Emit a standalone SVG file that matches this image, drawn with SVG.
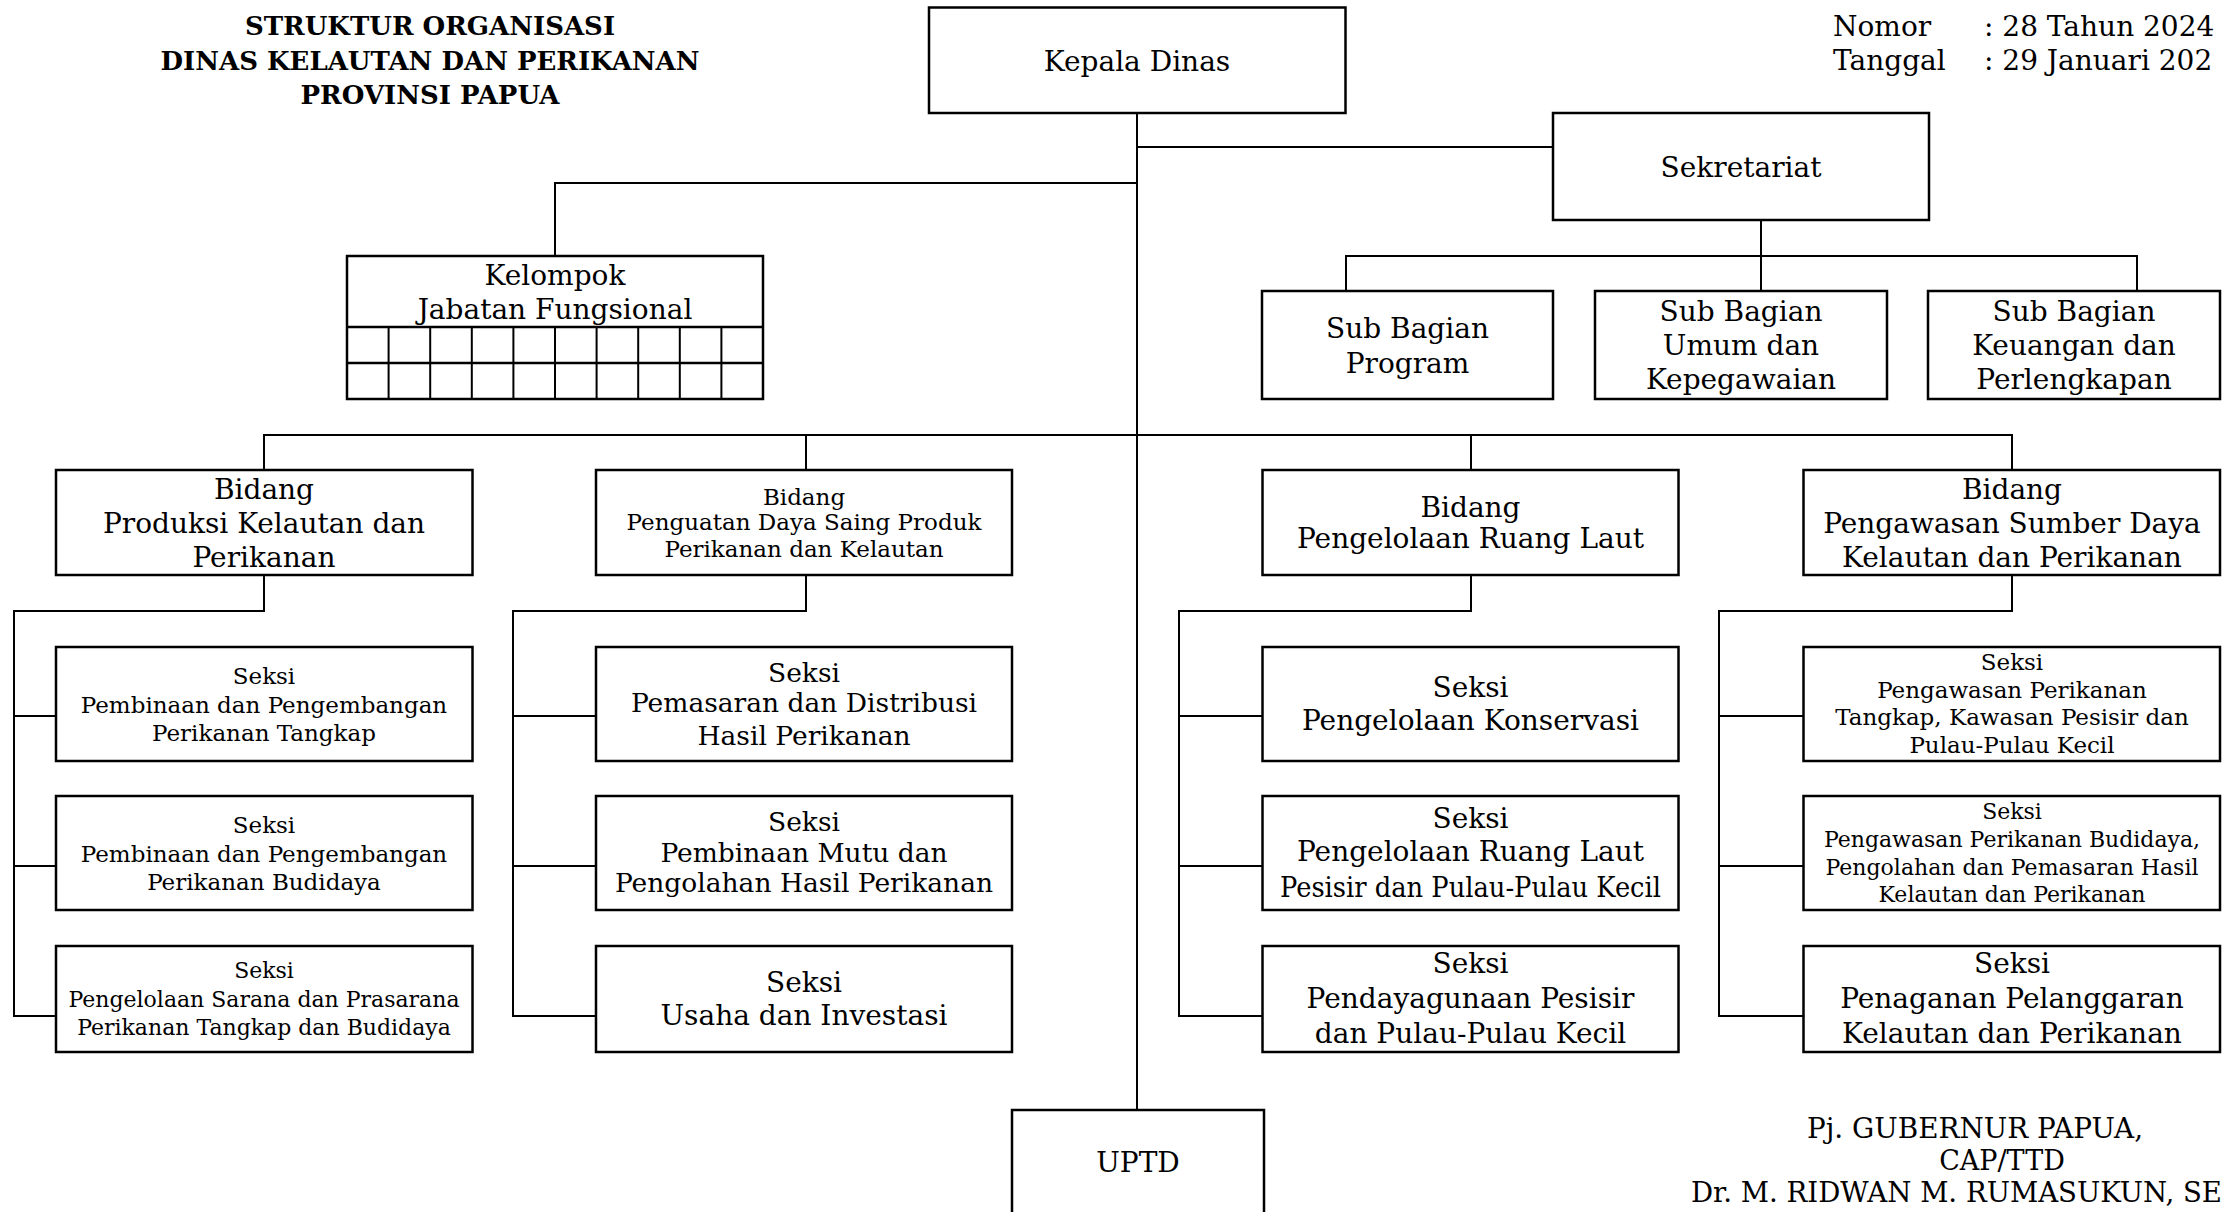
<svg xmlns="http://www.w3.org/2000/svg" width="2227" height="1212" viewBox="0 0 2227 1212">
<style>
text{font-family:"DejaVu Serif","Liberation Serif",serif;fill:#000}
.c{text-anchor:middle}
.b{fill:#fff;stroke:#000;stroke-width:2.5}
.ln{fill:none;stroke:#000;stroke-width:2}
.title{font-weight:bold;font-size:26px}
.f28{font-size:28px}
.f27{font-size:27px}
.f26{font-size:26.5px}
.f23{font-size:23px}
.f22{font-size:22px}
</style>
<rect width="2227" height="1212" fill="#fff"/>

<g id="title">
<text class="title c" x="430" y="35">STRUKTUR ORGANISASI</text>
<text class="title c" x="430" y="70">DINAS KELAUTAN DAN PERIKANAN</text>
<text class="title c" x="430" y="104">PROVINSI PAPUA</text>
</g>

<g id="header" class="f28">
<text x="1833" y="36">Nomor</text>
<text x="1984" y="36">: 28 Tahun 2024</text>
<text x="1833" y="70">Tanggal</text>
<text x="1984" y="70">: 29 Januari 202</text>
</g>

<g id="connectors">
<path class="ln" d="M1137 113V1110"/>
<path class="ln" d="M1137 147H1553"/>
<path class="ln" d="M1137 183H555V256"/>
<path class="ln" d="M1761 220V291M1346 291V256H2137V291"/>
<path class="ln" d="M264 470V435H2012V470M806 435V470M1471 435V470"/>
<path class="ln" d="M264 575V611H14V1016H56M14 716H56M14 866H56"/>
<path class="ln" d="M806 575V611H513V1016H596M513 716H596M513 866H596"/>
<path class="ln" d="M1471 575V611H1179V1016H1263M1179 716H1263M1179 866H1263"/>
<path class="ln" d="M2012 575V611H1719V1016H1804M1719 716H1804M1719 866H1804"/>
</g>

<g id="kepala-dinas">
<rect class="b" x="929" y="7.5" width="416.5" height="105.5"/>
<text class="f28 c" x="1137" y="71">Kepala Dinas</text>
</g>

<g id="sekretariat">
<rect class="b" x="1553" y="113" width="376" height="107"/>
<text class="f28 c" x="1741" y="177">Sekretariat</text>
</g>

<g id="kelompok-jabatan-fungsional">
<rect class="b" x="347" y="256" width="416" height="143"/>
<path class="ln" style="stroke-width:2.5" d="M347 327H763M347 363H763"/>
<path class="ln" d="M388.6 327V399M430.2 327V399M471.8 327V399M513.4 327V399M555 327V399M596.6 327V399M638.2 327V399M679.8 327V399M721.4 327V399"/>
<text class="f28 c" x="555" y="285">Kelompok</text>
<text class="f28 c" x="555" y="319">Jabatan Fungsional</text>
</g>

<g id="sub-bagian-program">
<rect class="b" x="1262" y="291" width="291" height="108"/>
<text class="f28 c" x="1407.5" y="338">Sub Bagian</text>
<text class="f28 c" x="1407.5" y="373">Program</text>
</g>

<g id="sub-bagian-umum">
<rect class="b" x="1595" y="291" width="292" height="108"/>
<text class="f28 c" x="1741" y="321">Sub Bagian</text>
<text class="f28 c" x="1741" y="355">Umum dan</text>
<text class="f28 c" x="1741" y="389">Kepegawaian</text>
</g>

<g id="sub-bagian-keuangan">
<rect class="b" x="1928" y="291" width="292" height="108"/>
<text class="f28 c" x="2074" y="321">Sub Bagian</text>
<text class="f28 c" x="2074" y="355">Keuangan dan</text>
<text class="f28 c" x="2074" y="389">Perlengkapan</text>
</g>

<g id="bidang-produksi">
<rect class="b" x="56" y="470" width="416.5" height="105"/>
<text class="f28 c" x="264" y="499">Bidang</text>
<text class="f28 c" x="264" y="533">Produksi Kelautan dan</text>
<text class="f28 c" x="264" y="567">Perikanan</text>
</g>

<g id="bidang-penguatan">
<rect class="b" x="596" y="470" width="416" height="105"/>
<text class="f23 c" x="804" y="505">Bidang</text>
<text class="f23 c" x="804" y="530">Penguatan Daya Saing Produk</text>
<text class="f23 c" x="804" y="557">Perikanan dan Kelautan</text>
</g>

<g id="bidang-ruang-laut">
<rect class="b" x="1262.5" y="470" width="416" height="105"/>
<text class="f28 c" x="1470.5" y="517">Bidang</text>
<text class="f28 c" x="1470.5" y="548">Pengelolaan Ruang Laut</text>
</g>

<g id="bidang-pengawasan">
<rect class="b" x="1803.5" y="470" width="416.5" height="105"/>
<text class="f28 c" x="2012" y="499">Bidang</text>
<text class="f28 c" x="2012" y="533">Pengawasan Sumber Daya</text>
<text class="f28 c" x="2012" y="567">Kelautan dan Perikanan</text>
</g>

<g id="seksi-tangkap">
<rect class="b" x="56" y="647" width="416.5" height="114"/>
<text class="f23 c" x="264" y="684">Seksi</text>
<text class="f23 c" x="264" y="713">Pembinaan dan Pengembangan</text>
<text class="f23 c" x="264" y="741">Perikanan Tangkap</text>
</g>

<g id="seksi-budidaya">
<rect class="b" x="56" y="796" width="416.5" height="114"/>
<text class="f23 c" x="264" y="833">Seksi</text>
<text class="f23 c" x="264" y="862">Pembinaan dan Pengembangan</text>
<text class="f23 c" x="264" y="890">Perikanan Budidaya</text>
</g>

<g id="seksi-sarana">
<rect class="b" x="56" y="946" width="416.5" height="106"/>
<text class="f22 c" x="264" y="978">Seksi</text>
<text class="f22 c" x="264" y="1007">Pengelolaan Sarana dan Prasarana</text>
<text class="f22 c" x="264" y="1035">Perikanan Tangkap dan Budidaya</text>
</g>

<g id="seksi-pemasaran">
<rect class="b" x="596" y="647" width="416" height="114"/>
<text class="f26 c" x="804" y="682">Seksi</text>
<text class="f26 c" x="804" y="712">Pemasaran dan Distribusi</text>
<text class="f26 c" x="804" y="745">Hasil Perikanan</text>
</g>

<g id="seksi-mutu">
<rect class="b" x="596" y="796" width="416" height="114"/>
<text class="f26 c" x="804" y="831">Seksi</text>
<text class="f26 c" x="804" y="862">Pembinaan Mutu dan</text>
<text class="f26 c" x="804" y="892">Pengolahan Hasil Perikanan</text>
</g>

<g id="seksi-usaha">
<rect class="b" x="596" y="946" width="416" height="106"/>
<text class="f28 c" x="804" y="992">Seksi</text>
<text class="f28 c" x="804" y="1025">Usaha dan Investasi</text>
</g>

<g id="seksi-konservasi">
<rect class="b" x="1262.5" y="647" width="416" height="114"/>
<text class="f28 c" x="1470.5" y="697">Seksi</text>
<text class="f28 c" x="1470.5" y="730">Pengelolaan Konservasi</text>
</g>

<g id="seksi-ruang-laut-pesisir">
<rect class="b" x="1262.5" y="796" width="416" height="114"/>
<text class="f28 c" x="1470.5" y="828">Seksi</text>
<text class="f28 c" x="1470.5" y="861">Pengelolaan Ruang Laut</text>
<text class="f28 c" x="1470.5" y="897" textLength="381" lengthAdjust="spacingAndGlyphs">Pesisir dan Pulau-Pulau Kecil</text>
</g>

<g id="seksi-pendayagunaan">
<rect class="b" x="1262.5" y="946" width="416" height="106"/>
<text class="f28 c" x="1470.5" y="973">Seksi</text>
<text class="f28 c" x="1470.5" y="1008">Pendayagunaan Pesisir</text>
<text class="f28 c" x="1470.5" y="1043">dan Pulau-Pulau Kecil</text>
</g>

<g id="seksi-pengawasan-tangkap">
<rect class="b" x="1803.5" y="647" width="416.5" height="114"/>
<text class="f23 c" x="2012" y="670">Seksi</text>
<text class="f23 c" x="2012" y="698">Pengawasan Perikanan</text>
<text class="f23 c" x="2012" y="725">Tangkap, Kawasan Pesisir dan</text>
<text class="f23 c" x="2012" y="753">Pulau-Pulau Kecil</text>
</g>

<g id="seksi-pengawasan-budidaya">
<rect class="b" x="1803.5" y="796" width="416.5" height="114"/>
<text class="f22 c" x="2012" y="819">Seksi</text>
<text class="f22 c" x="2012" y="847">Pengawasan Perikanan Budidaya,</text>
<text class="f22 c" x="2012" y="875">Pengolahan dan Pemasaran Hasil</text>
<text class="f22 c" x="2012" y="902">Kelautan dan Perikanan</text>
</g>

<g id="seksi-pelanggaran">
<rect class="b" x="1803.5" y="946" width="416.5" height="106"/>
<text class="f28 c" x="2012" y="973">Seksi</text>
<text class="f28 c" x="2012" y="1008">Penaganan Pelanggaran</text>
<text class="f28 c" x="2012" y="1043">Kelautan dan Perikanan</text>
</g>

<g id="uptd">
<rect class="b" x="1012" y="1110" width="252" height="130"/>
<text class="f28 c" x="1138" y="1172">UPTD</text>
</g>

<g id="signature" class="f27">
<text x="1975" y="1138" text-anchor="middle" textLength="336" lengthAdjust="spacingAndGlyphs">Pj. GUBERNUR PAPUA,</text>
<text x="2002" y="1170" text-anchor="middle">CAP/TTD</text>
<text x="1691" y="1202" textLength="531" lengthAdjust="spacingAndGlyphs">Dr. M. RIDWAN M. RUMASUKUN, SE</text>
</g>
</svg>
